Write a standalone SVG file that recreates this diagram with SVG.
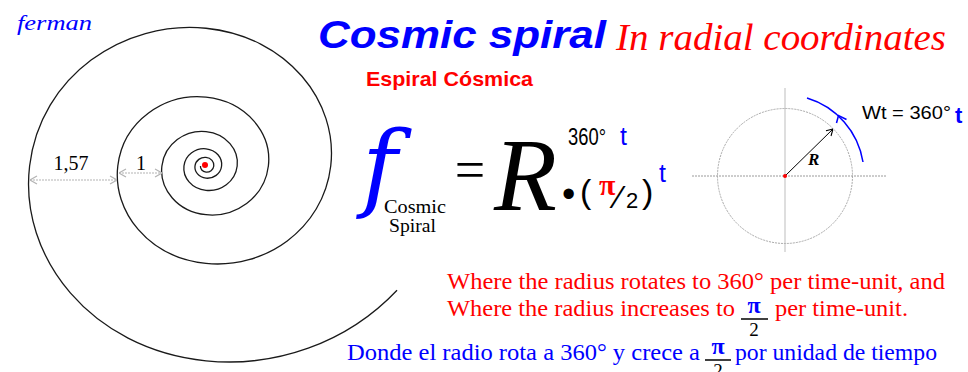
<svg xmlns="http://www.w3.org/2000/svg" width="968" height="372" viewBox="0 0 968 372">
<style>
 .serif{font-family:"Liberation Serif","Times New Roman",serif}
 .sans{font-family:"Liberation Sans",Arial,sans-serif}
 .blue{fill:#0000ff}
 .red{fill:#ff0000}
 .blk{fill:#000}
 .sp{fill:none;stroke:#1a1a1a;stroke-width:1.3;vector-effect:non-scaling-stroke}
 .dim{fill:none;stroke:#b4b4b4;stroke-width:1.2;stroke-dasharray:2 1}
 .thin{fill:none;stroke:#000;stroke-width:1}
</style>
<defs>
 <path id="turn" class="sp" d="M-90,0 C-95.48,49.71 -59.11,100.51 0,107.03 C59.11,113.55 119.52,70.30 127.28,0 C135.04,-70.30 83.60,-142.14 0,-151.36 C-83.60,-160.58 -169.03,-99.41 -180,0"/>
 <marker id="ah" viewBox="0 0 10 10" refX="10" refY="5" markerWidth="10" markerHeight="10" markerUnits="userSpaceOnUse" orient="auto-start-reverse">
  <path d="M3,1 L10,5 L3,9" fill="none" stroke="#b4b4b4" stroke-width="1.2"/>
 </marker>
 <marker id="ak" viewBox="0 0 10 10" refX="10" refY="5" markerWidth="9" markerHeight="9" markerUnits="userSpaceOnUse" orient="auto">
  <path d="M3,1 L10,5 L3,9" fill="none" stroke="#000" stroke-width="1.2"/>
 </marker>
</defs>

<text id="author" x="17" y="30" class="serif blue" font-style="italic" font-size="20" textLength="75" lengthAdjust="spacingAndGlyphs">ferman</text>

<g id="spiral">
 <g transform="translate(206,166) scale(0.98,0.91)">
  <use href="#turn"/>
  <use href="#turn" transform="scale(0.5)"/>
  <use href="#turn" transform="scale(0.25)"/>
  <use href="#turn" transform="scale(0.125)"/>
  <use href="#turn" transform="scale(0.0625)"/>
  <path class="sp" d="M-180,0 C-190.96,99.42 -118.22,201.02 0,214.06 C69.85,221.77 143.37,195.19 194.93,136.49"/>
 </g>
 <circle cx="205" cy="165" r="3" fill="#ff0000"/>
</g>

<g id="dimensions">
 <path class="dim" d="M30,180 H117" marker-start="url(#ah)" marker-end="url(#ah)"/>
 <path class="dim" d="M119,173 H162" marker-start="url(#ah)" marker-end="url(#ah)"/>
 <text x="71" y="170" class="serif blk" font-size="20" text-anchor="middle">1,57</text>
 <text x="141" y="170" class="serif blk" font-size="20" text-anchor="middle">1</text>
</g>

<g id="titles">
 <text x="318" y="48" class="sans blue" font-weight="bold" font-style="italic" font-size="39" textLength="288" lengthAdjust="spacingAndGlyphs">Cosmic spiral</text>
 <text x="616" y="50" class="serif red" font-style="italic" font-size="38" textLength="330" lengthAdjust="spacingAndGlyphs">In radial coordinates</text>
 <text x="366" y="86" class="sans red" font-weight="bold" font-size="21" textLength="167" lengthAdjust="spacingAndGlyphs">Espiral Cósmica</text>
</g>

<g id="formula">
 <text x="362" y="199" font-family="'DejaVu Serif',serif" class="blue" font-style="italic" font-size="96">f</text>
 <text x="384" y="213" class="serif blk" font-size="18" textLength="62" lengthAdjust="spacingAndGlyphs">Cosmic</text>
 <text x="389" y="232" class="serif blk" font-size="18" textLength="47" lengthAdjust="spacingAndGlyphs">Spiral</text>
 <text x="470" y="188" class="serif blk" font-size="54" text-anchor="middle">=</text>
 <text x="494" y="210" class="serif blk" font-style="italic" font-size="103">R</text>
 <text x="562" y="207" class="sans blk" font-size="38">•</text>
 <text x="580" y="203" class="sans blk" font-size="34">(</text>
 <text x="599" y="195" class="serif red" font-weight="bold" font-size="30">π</text>
 <text x="616" y="208" class="sans blk" font-size="32">⁄</text>
 <text x="626" y="208" class="sans blk" font-size="22">2</text>
 <text x="642" y="203" class="sans blk" font-size="34">)</text>
 <text x="659" y="182" class="sans blue" font-size="25">t</text>
 <text x="568" y="145" class="sans blk" font-size="23" textLength="38" lengthAdjust="spacingAndGlyphs">360°</text>
 <text x="620" y="145" class="sans blue" font-size="25">t</text>
</g>

<g id="rotation">
 <line x1="692" y1="176" x2="887" y2="176" stroke="#9a9a9a" stroke-width="1" stroke-dasharray="2 1"/>
 <line x1="785" y1="88" x2="785" y2="252" stroke="#c8c8c8" stroke-width="1.2"/>
 <circle cx="785" cy="176" r="67.5" fill="none" stroke="#a8a8a8" stroke-width="1" stroke-dasharray="2 1"/>
 <line x1="785" y1="176" x2="833" y2="129" class="thin" marker-end="url(#ak)"/>
 <circle cx="785" cy="176" r="2" fill="#ff0000"/>
 <text x="808" y="165" class="serif blk" font-weight="bold" font-style="italic" font-size="17">R</text>
 <path d="M807,98 A80,80 0 0,1 863,162" fill="none" stroke="#0000ff" stroke-width="1.5"/>
 <path d="M836.5,123 L838.5,115.5 L846.5,119.5" fill="none" stroke="#0000ff" stroke-width="1.5"/>
 <text x="862" y="119" class="sans blk" font-size="19" textLength="89" lengthAdjust="spacingAndGlyphs">Wt = 360°</text>
 <text x="955" y="123" class="sans blue" font-weight="bold" font-size="22">t</text>
</g>

<g id="notes">
 <text x="447" y="289" class="serif red" font-size="23" textLength="498" lengthAdjust="spacingAndGlyphs">Where the radius rotates to 360°  per time-unit, and</text>
 <text x="447" y="316" class="serif red" font-size="23" textLength="288" lengthAdjust="spacingAndGlyphs">Where the radius increases  to</text>
 <text x="754" y="313" class="serif blue" font-weight="bold" font-size="24" text-anchor="middle">π</text>
 <line x1="741" y1="319" x2="768" y2="319" stroke="#000" stroke-width="1.5"/>
 <text x="754" y="336" class="serif blk" font-size="19" text-anchor="middle">2</text>
 <text x="775" y="316" class="serif red" font-size="23" textLength="133" lengthAdjust="spacingAndGlyphs">per time-unit.</text>
 <text x="347" y="360" class="serif blue" font-size="23" textLength="353" lengthAdjust="spacingAndGlyphs">Donde el radio rota a 360° y crece a</text>
 <text x="718" y="354" class="serif blue" font-weight="bold" font-size="24" text-anchor="middle">π</text>
 <line x1="705" y1="360" x2="731" y2="360" stroke="#000" stroke-width="1.5"/>
 <text x="718" y="377" class="serif blk" font-size="19" text-anchor="middle">2</text>
 <text x="735" y="360" class="serif blue" font-size="23" textLength="202" lengthAdjust="spacingAndGlyphs">por unidad de tiempo</text>
</g>
</svg>
